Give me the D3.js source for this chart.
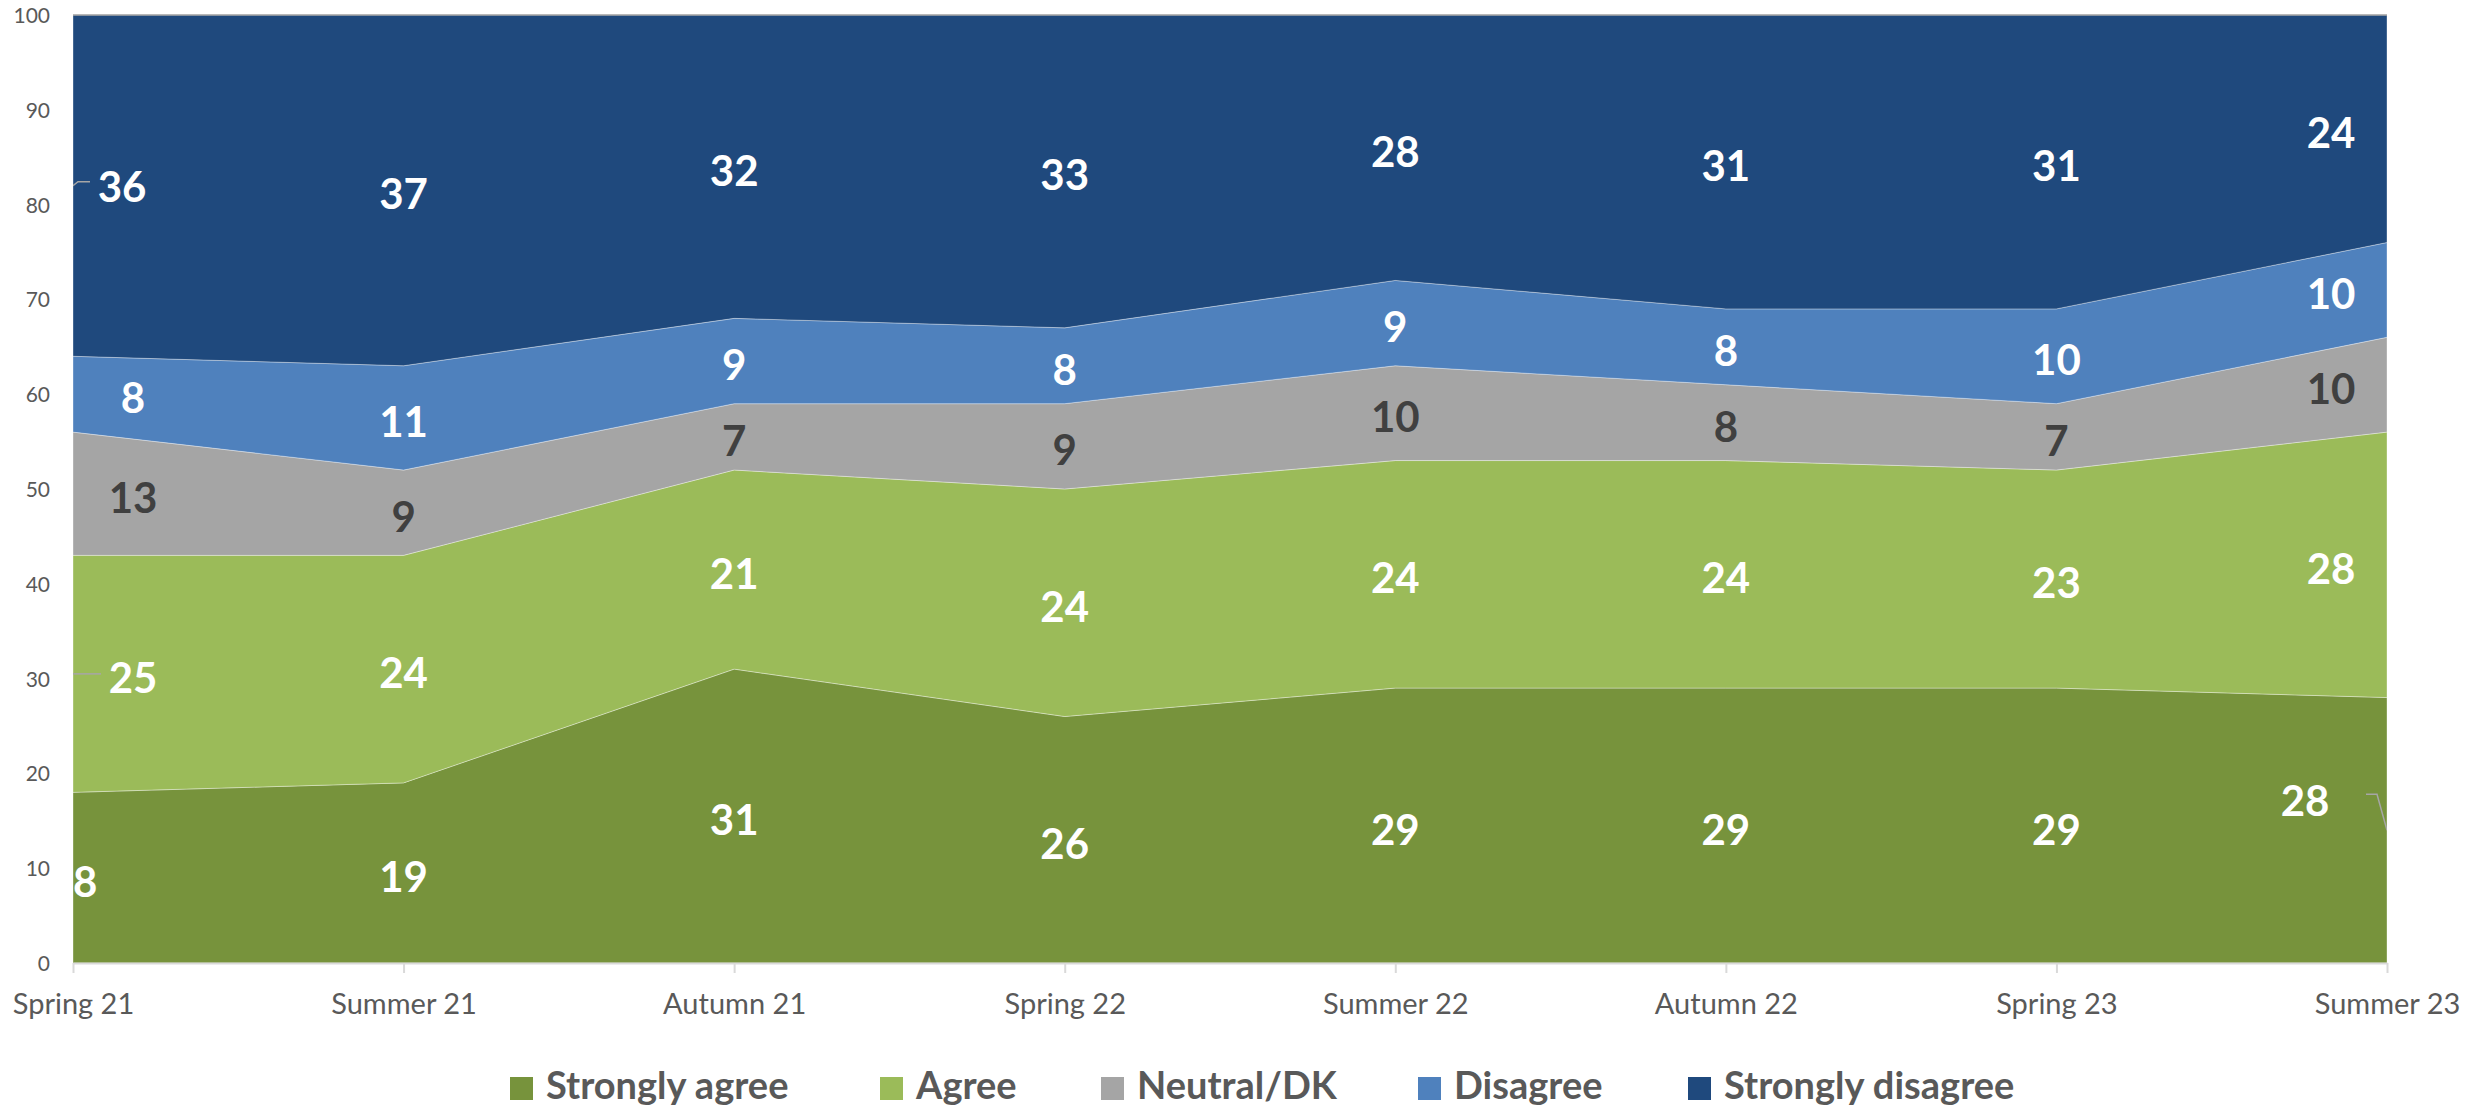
<!DOCTYPE html>
<html>
<head>
<meta charset="utf-8">
<script src="https://cdn.jsdelivr.net/npm/d3@7"></script>
<style>
  html, body { margin: 0; padding: 0; background: #fff; }
  svg text { font-family: Lato, "Open Sans", sans-serif; }
</style>
</head>
<body>
<div id="chart"></div>
<script>
// Data
const categories = ["Spring 21", "Summer 21", "Autumn 21", "Spring 22", "Summer 22", "Autumn 22", "Spring 23", "Summer 23"];
const seriesNames = ["Strongly agree", "Agree", "Neutral/DK", "Disagree", "Strongly disagree"];
const stronglyAgree = [18, 19, 31, 26, 29, 29, 29, 28];
const agree = [25, 24, 21, 24, 24, 24, 23, 28];
const neutral = [13, 9, 7, 9, 10, 8, 7, 10];
const disagree = [8, 11, 9, 8, 9, 8, 10, 10];
const stronglyDisagree = [36, 37, 32, 33, 28, 31, 31, 24];
const yTicks = [0, 10, 20, 30, 40, 50, 60, 70, 80, 90, 100];

const colors = ["#77933C", "#9BBB59", "#A5A5A5", "#4F81BD", "#1F497D"];
const labelColors = ["#fff", "#fff", "#404040", "#fff", "#fff"];

const width = 2476;
const height = 1111;
const plot = { left: 73, right: 2387, top: 15, bottom: 963 };

const svg = d3.select("#chart").append("svg")
  .attr("width", width)
  .attr("height", height);

const x = d3.scalePoint().domain(categories).range([plot.left, plot.right]);
const y = d3.scaleLinear().domain([0, 100]).range([plot.bottom, plot.top]);

// table for d3.stack
const valueLists = [stronglyAgree, agree, neutral, disagree, stronglyDisagree];
const table = categories.map((c, i) => {
  const row = { cat: c };
  seriesNames.forEach((s, k) => (row[s] = valueLists[k][i]));
  return row;
});
const stacked = d3.stack().keys(seriesNames)(table);

// Areas
const area = d3.area()
  .x((d) => x(d.data.cat))
  .y0((d) => y(d[0]))
  .y1((d) => y(d[1]));

svg.append("g")
  .selectAll("path")
  .data(stacked)
  .enter()
  .append("path")
  .attr("d", area)
  .attr("fill", (d, i) => colors[i])
  .attr("stroke", "rgba(255,255,255,0.35)")
  .attr("stroke-width", 1);

// top edge
svg.append("line")
  .attr("x1", plot.left).attr("x2", plot.right)
  .attr("y1", y(100)).attr("y2", y(100))
  .attr("stroke", "#a0a0a0")
  .attr("stroke-width", 1.5);

// Y axis (labels only)
const yAxis = svg.append("g")
  .attr("transform", `translate(${plot.left - 23},0)`)
  .call(d3.axisLeft(y).tickValues(yTicks).tickSize(0).tickPadding(0));
yAxis.select(".domain").remove();
yAxis.selectAll("text")
  .attr("fill", "#595959")
  .style("font-size", "21px")
  .attr("dy", "0.36em");

// X axis
const xAxis = svg.append("g")
  .attr("transform", `translate(0,${plot.bottom})`)
  .call(d3.axisBottom(x).tickSize(10).tickPadding(20).tickSizeOuter(0));
xAxis.select(".domain").attr("stroke", "#d9d9d9").attr("stroke-width", 2);
xAxis.selectAll(".tick line").attr("stroke", "#d9d9d9").attr("stroke-width", 2);
xAxis.selectAll("text")
  .attr("fill", "#595959")
  .style("font-size", "29px");

// Data labels
svg.append("clipPath").attr("id", "plotClip")
  .append("rect")
  .attr("x", plot.left).attr("y", 0)
  .attr("width", plot.right - plot.left).attr("height", height);

const labelG = svg.append("g").attr("clip-path", "url(#plotClip)");

// per-label nudges for the first and last columns (series index, point index)
const edgeShift = { first: 60, last: -56 };
const customLabels = {
  "0-0": { dx: 0, dy: 0 },
  "4-0": { dx: 49, dy: -3, leader: [[0, 0], [5, -4], [17, -4]] },
  "1-0": { dx: 60, dy: 0, leader: [[0, 0], [28, 0]] },
  "0-7": { dx: -82, dy: -33, leader: [[0, 0], [-10, -36], [-21, -36]] }
};

stacked.forEach((layer, k) => {
  layer.forEach((d, i) => {
    const px = x(d.data.cat);
    const py = y((d[0] + d[1]) / 2);
    let dx = 0, dy = 0;
    if (i === 0) dx = edgeShift.first;
    if (i === categories.length - 1) dx = edgeShift.last;
    const c = customLabels[`${k}-${i}`];
    if (c) {
      dx = c.dx;
      dy = c.dy;
      if (c.leader) {
        labelG.append("path")
          .attr("d", d3.line()(c.leader.map((p) => [px + p[0], py + p[1]])))
          .attr("fill", "none")
          .attr("stroke", "#a6a6a6")
          .attr("stroke-width", 1.5);
      }
    }
    labelG.append("text")
      .attr("x", px + dx)
      .attr("y", py + dy + 3)
      .attr("text-anchor", "middle")
      .attr("dominant-baseline", "central")
      .attr("fill", labelColors[k])
      .style("font-size", "42px")
      .style("font-weight", "bold")
      .text(d.data[layer.key]);
  });
});

// Legend
const legendX = [510, 880, 1101, 1418, 1688];
const legend = svg.append("g");
seriesNames.forEach((name, k) => {
  const g = legend.append("g").attr("transform", `translate(${legendX[k]},1077)`);
  g.append("rect").attr("width", 23).attr("height", 23).attr("fill", colors[k]);
  g.append("text")
    .attr("x", 36)
    .attr("y", 22)
    .attr("fill", "#595959")
    .style("font-size", "38px")
    .style("font-weight", "bold")
    .text(name);
});
</script>
</body>
</html>
